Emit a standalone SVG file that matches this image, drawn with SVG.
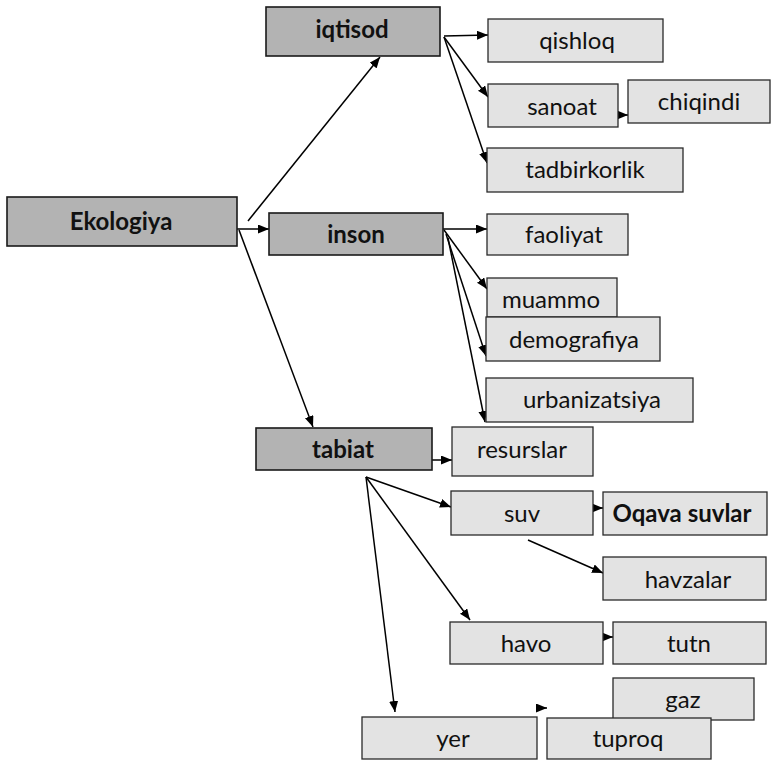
<svg xmlns="http://www.w3.org/2000/svg" width="771" height="760" viewBox="0 0 771 760">
<style>
.dk{fill:#b3b3b3;stroke:#1a1a1a;stroke-width:1.6}
.lt{fill:#e3e3e3;stroke:#2a2a2a;stroke-width:1.3}
.tb{font-family:Lato,"Liberation Sans",sans-serif;font-weight:bold;font-size:24px;fill:#111;text-anchor:middle}
.tr{font-family:Lato,"Liberation Sans",sans-serif;font-size:24px;fill:#111;text-anchor:middle}
.c line{stroke:#000;stroke-width:1.5;marker-end:url(#ah)}
</style>
<defs>
<marker id="ah" markerUnits="userSpaceOnUse" markerWidth="11" markerHeight="9" refX="11" refY="4.5" orient="auto">
<path d="M0,0 L11,4.5 L0,9 z" fill="#000"/>
</marker>
</defs>
<rect width="771" height="760" fill="#fff"/>
<g class="c" id="connectors">
<line x1="248" y1="221" x2="380" y2="57"/>
<line x1="237" y1="229" x2="269" y2="229"/>
<line x1="239" y1="230" x2="313" y2="427"/>
<line x1="444" y1="36" x2="488" y2="35"/>
<line x1="444" y1="37" x2="488" y2="97"/>
<line x1="444" y1="37" x2="487" y2="163"/>
<line x1="617" y1="115" x2="628" y2="115"/>
<line x1="443" y1="229" x2="487" y2="229"/>
<line x1="444" y1="230" x2="487" y2="289"/>
<line x1="446" y1="234" x2="486" y2="356"/>
<line x1="448" y1="238" x2="485" y2="422"/>
<line x1="432" y1="460" x2="452" y2="460"/>
<line x1="366" y1="477" x2="451" y2="507"/>
<line x1="366" y1="477" x2="470" y2="620"/>
<line x1="366" y1="477" x2="395" y2="712"/>
<line x1="592" y1="508" x2="603" y2="508"/>
<line x1="528" y1="540" x2="603" y2="573"/>
<line x1="602" y1="637" x2="613" y2="637"/>
<line x1="536" y1="708" x2="547" y2="708"/>
</g>
<g id="iqtisod"><rect class="dk" x="266" y="7" width="174" height="49"/><text class="tb" x="352" y="38">iqtisod</text></g>
<g id="ekologiya"><rect class="dk" x="7" y="197" width="230" height="49"/><text class="tb" x="121" y="230" font-size="25">Ekologiya</text></g>
<g id="inson"><rect class="dk" x="269" y="213" width="174" height="42"/><text class="tb" x="356" y="243">inson</text></g>
<g id="tabiat"><rect class="dk" x="256" y="428" width="176" height="42"/><text class="tb" x="343" y="458">tabiat</text></g>
<g id="qishloq"><rect class="lt" x="488" y="19" width="175" height="43"/><text class="tr" x="577" y="49">qishloq</text></g>
<g id="sanoat"><rect class="lt" x="488" y="84" width="130" height="43"/><text class="tr" x="562" y="115">sanoat</text></g>
<g id="chiqindi"><rect class="lt" x="628" y="80" width="142" height="43"/><text class="tr" x="699" y="110">chiqindi</text></g>
<g id="tadbirkorlik"><rect class="lt" x="487" y="148" width="196" height="44"/><text class="tr" x="585" y="178">tadbirkorlik</text></g>
<g id="faoliyat"><rect class="lt" x="487" y="214" width="141" height="41"/><text class="tr" x="564" y="243">faoliyat</text></g>
<g id="muammo"><rect class="lt" x="487" y="278" width="130" height="39"/><text class="tr" x="551" y="308">muammo</text></g>
<g id="demografiya"><rect class="lt" x="486" y="317" width="174" height="44"/><text class="tr" x="574" y="348">demografiya</text></g>
<g id="urbanizatsiya"><rect class="lt" x="486" y="378" width="207" height="44"/><text class="tr" x="592" y="408">urbanizatsiya</text></g>
<g id="resurslar"><rect class="lt" x="452" y="427" width="141" height="49"/><text class="tr" x="522" y="458">resurslar</text></g>
<g id="suv"><rect class="lt" x="451" y="491" width="142" height="44"/><text class="tr" x="522" y="522">suv</text></g>
<g id="oqava"><rect class="lt" x="603" y="492" width="164" height="43"/><text class="tb" x="682" y="522" font-size="21">Oqava suvlar</text></g>
<g id="havzalar"><rect class="lt" x="603" y="557" width="163" height="43"/><text class="tr" x="688" y="588">havzalar</text></g>
<g id="havo"><rect class="lt" x="450" y="622" width="153" height="42"/><text class="tr" x="526" y="652">havo</text></g>
<g id="tutn"><rect class="lt" x="613" y="622" width="153" height="42"/><text class="tr" x="689" y="652">tutn</text></g>
<g id="gaz"><rect class="lt" x="613" y="678" width="141" height="42"/><text class="tr" x="683" y="708">gaz</text></g>
<g id="yer"><rect class="lt" x="362" y="717" width="175" height="42"/><text class="tr" x="453" y="747">yer</text></g>
<g id="tuproq"><rect class="lt" x="547" y="718" width="164" height="41"/><text class="tr" x="628" y="747">tuproq</text></g>
</svg>
